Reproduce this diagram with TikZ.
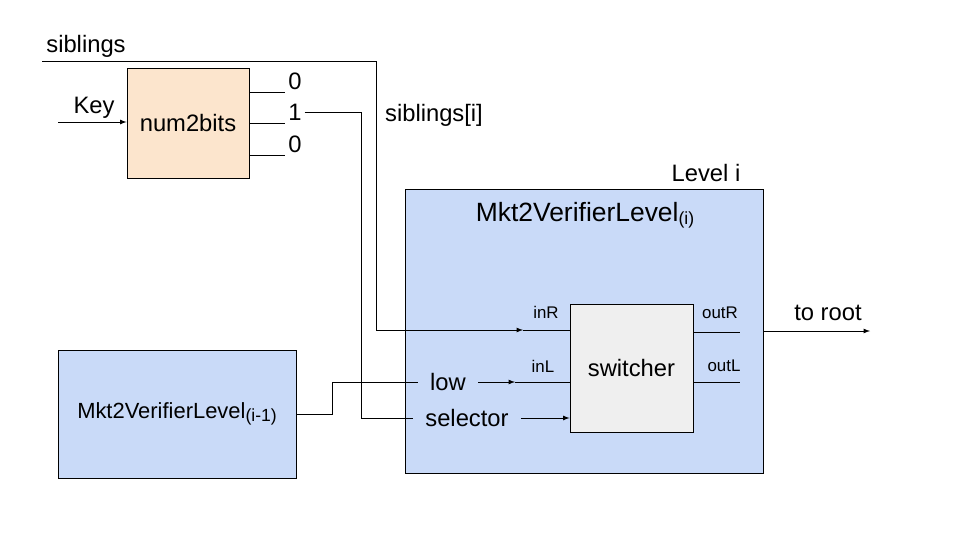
\documentclass[tikz,border=0pt]{standalone}
\usepackage{fontspec}
\setmainfont{Liberation Sans}
\usetikzlibrary{arrows}

\definecolor{peach}{HTML}{FCE5CD}
\definecolor{paleblue}{HTML}{C9DAF8}
\definecolor{palegray}{HTML}{EFEFEF}
\newcommand{\BigTxt}{\fontsize{16.9}{20}\selectfont}
\newcommand{\PinTxt}{\fontsize{12}{14}\selectfont}
\newcommand{\LvlSub}[1]{\raisebox{-2.5pt}{\fontsize{12.5}{14}\selectfont #1}}

\begin{document}
\begin{tikzpicture}
    [
        x=0.025cm, y=-0.025cm,
        box/.style = {draw, shape=rectangle, line width=0.6pt, inner sep=0pt},
        txt/.style = {inner sep=1pt, font=\BigTxt},
        pin/.style = {inner sep=1pt, font=\PinTxt},
        wire/.style = {line width=0.6pt},
    ]
    \useasboundingbox (0,0) rectangle (960,540);

    % blocks
    \node[box, fill=peach, minimum width=3.05cm, minimum height=2.75cm] (n2b) at (188,123) {\BigTxt num2bits};
    \node[box, fill=paleblue, minimum width=8.95cm, minimum height=7.1cm] (lvl) at (584,331) {};
    \node[box, fill=palegray, minimum width=3.075cm, minimum height=3.2cm] (sw) at (631.5,368) {\BigTxt switcher};
    \node[box, fill=paleblue, minimum width=5.95cm, minimum height=3.2cm] (prev) at (177,414) {\fontsize{15.6}{18}\selectfont Mkt2VerifierLevel\LvlSub{(i-1)}};

    % texts
    \node[txt] (sib) at (86,46) {siblings};
    \node[txt] (key) at (94,108) {Key};
    \node[txt, inner sep=2pt] (b0) at (295,81) {0};
    \node[txt, inner sep=2pt] (b1) at (295,112) {1};
    \node[txt, inner sep=2pt] (b2) at (295,144) {0};
    \node[txt] (sibi) at (434,115) {siblings[i]};
    \node[txt] (lvlname) at (706,173) {Level i};
    \node[txt] (lvltitle) at (585,215) {\fontsize{18.8}{21}\selectfont Mkt2VerifierLevel\LvlSub{(i)}};
    \node[txt, inner sep=0.3cm] (low) at (448,382) {low};
    \node[txt, inner sep=0.3cm] (sel) at (467,418) {selector};
    \node[pin] (inR) at (546,312) {inR};
    \node[pin] (inL) at (543,366) {inL};
    \node[pin] (outR) at (720,313) {outR};
    \node[pin] (outL) at (724,366) {outL};
    \node[txt] (root) at (828,313) {to root};

    % free ends and bends
    \coordinate (sibstart) at (42,61);
    \coordinate (sibdown) at (376,330);
    \coordinate (inRarr) at (523,330);
    \coordinate (keyin) at (58,122);
    \coordinate (seldown) at (361,418);
    \coordinate (lowjog) at (332,382);
    \coordinate (lowarr) at (515,382);
    \coordinate (outRend) at (740,332);
    \coordinate (outLend) at (740,382);
    \coordinate (rootend) at (870,331);

    % wires
    \draw [wire, -latex] (keyin) -- (keyin -| n2b.west);
    \draw [wire] (n2b.east |- b0.south west) -- (b0.south west);
    \draw [wire] (n2b.east |- b1.south west) -- (b1.south west);
    \draw [wire] (n2b.east |- b2.south west) -- (b2.south west);

    \draw [wire, -latex] (sibstart) -| (sibdown) -- (inRarr);
    \draw [wire] (inRarr) -- (inRarr -| sw.west);

    \draw [wire] (b1.east) -| (seldown) -- (sel.west);
    \draw [wire, -latex] (sel.east) -- (sel.east -| sw.west);

    \draw [wire] (prev.east) -| (lowjog) -- (low.west);
    \draw [wire, -latex] (low.east) -- (lowarr);
    \draw [wire] (lowarr) -- (lowarr -| sw.west);

    \draw [wire] (outRend -| sw.east) -- (outRend);
    \draw [wire] (outLend -| sw.east) -- (outLend);
    \draw [wire, -latex] (lvl.east) -- (rootend);
\end{tikzpicture}
\end{document}
